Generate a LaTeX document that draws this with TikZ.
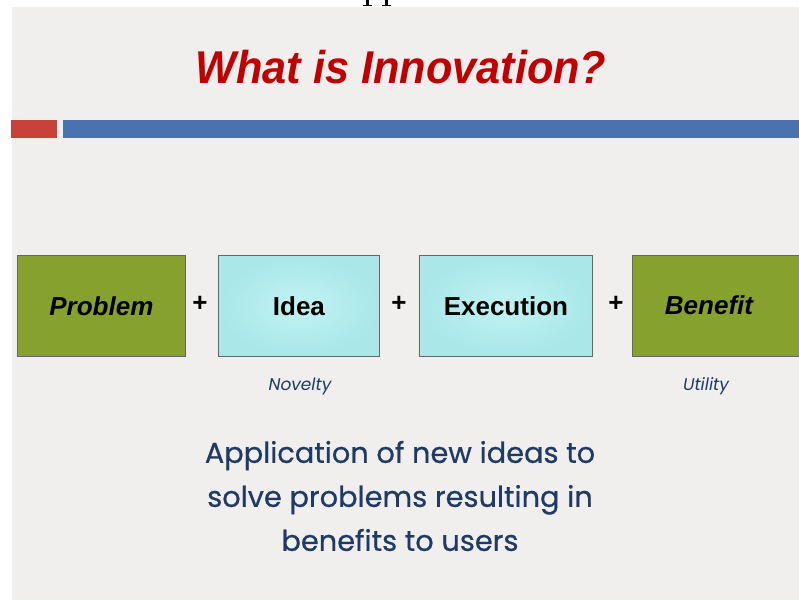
\documentclass[tikz,border=0pt]{standalone}
\usepackage{fontspec}
\setmainfont{Liberation Sans}
\newfontfamily\gothic{Poppins}
\newfontfamily\gothicb[FakeBold=0.6]{Poppins}
\definecolor{slidebg}{HTML}{F0EFED}
\definecolor{titlered}{HTML}{C00000}
\definecolor{barred}{HTML}{C9423A}
\definecolor{barblue}{HTML}{4A72B0}
\definecolor{boxgreen}{HTML}{87A12F}
\definecolor{cyanin}{HTML}{C2F2F2}
\definecolor{cyanout}{HTML}{A9E7E8}
\definecolor{boxline}{HTML}{666666}
\definecolor{navy}{HTML}{1F3A64}
\tikzset{
  greenbox/.style={draw=boxline, line width=0.8pt, fill=boxgreen, minimum height=101pt, inner sep=0pt},
  cyanbox/.style={draw=boxline, line width=0.8pt, inner color=cyanin, outer color=cyanout, minimum height=101pt, inner sep=0pt},
  boxtext/.style={font=\fontsize{26}{30}\selectfont\bfseries},
  plussign/.style={font=\fontsize{26}{30}\selectfont\bfseries, inner sep=0pt},
  sublabel/.style={font=\gothic\itshape\fontsize{17}{20}\selectfont, text=navy},
}
\begin{document}
\begin{tikzpicture}[x=1pt,y=-1pt]
\useasboundingbox (0,0) rectangle (799,600);
\clip (0,0) rectangle (799,600);
\fill[white] (0,0) rectangle (799,600);
% cut-off fragment marks at the top
\fill[black] (366,0) rectangle (368.5,6);
\fill[black] (362.5,5) rectangle (372,6.2);
\fill[black] (385,0) rectangle (387.5,6);
\fill[black] (381.5,5) rectangle (391,6.2);
\fill[slidebg] (12,7) rectangle (799,600);
% title
\node[font=\fontsize{46}{50}\selectfont\bfseries\itshape, text=titlered, xscale=0.94, inner sep=0pt] (title) at (401,67) {What is Innovation?};
% bars
\fill[barred] (11,120) rectangle (57,138);
\fill[barblue] (63,120) rectangle (799,138);
% boxes
\node[greenbox, minimum width=168pt, anchor=north west] (problem) at (17,255) {};
\node[boxtext, font=\fontsize{26}{30}\selectfont\bfseries\itshape] at (problem.center) {Problem};
\node[cyanbox, minimum width=161pt, anchor=north west] (idea) at (218,255) {};
\node[boxtext] at (idea.center) {Idea};
\node[cyanbox, minimum width=173pt, anchor=north west] (execution) at (419,255) {};
\node[boxtext] at (execution.center) {Execution};
\node[greenbox, minimum width=180pt, anchor=north west] (benefit) at (632,255) {};
\node[boxtext, font=\fontsize{26}{30}\selectfont\bfseries\itshape] at (709,305) {Benefit};
% plus signs
\node[plussign] (p1) at (200,304) {+};
\node[plussign] (p2) at (399,304) {+};
\node[plussign] (p3) at (616,304) {+};
% sublabels
\node[sublabel] (novelty) at (300,386) {Novelty};
\node[sublabel] (utility) at (706,386) {Utility};
% bottom text
\node[font=\gothicb\fontsize{28.8}{44}\selectfont, text=navy, align=center] (desc) at (400,496)
  {Application of new ideas to\\solve problems resulting in\\benefits to users};
\end{tikzpicture}
\end{document}
